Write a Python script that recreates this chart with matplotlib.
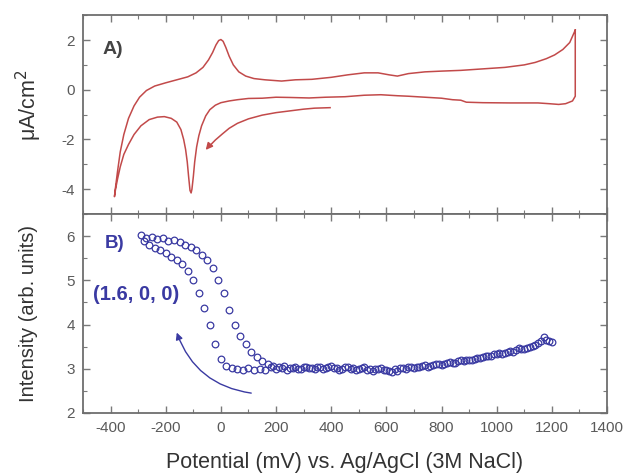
import matplotlib
matplotlib.use("Agg")
import matplotlib.pyplot as plt
from matplotlib.ticker import MultipleLocator

plt.rcParams['font.family'] = ['Liberation Sans', 'DejaVu Sans']
plt.rcParams['axes.unicode_minus'] = False

# ---- Panel A: cyclic voltammogram (mV, uA/cm^2) ----
cv_mv = [1285, 1285, 1275, 1250, 1225, 1190, 1150, 1050, 950, 890, 870, 840, 800, 740, 680, 640,
         580, 520, 450, 380, 320, 250, 200, 150, 100, 60, 30, 0, -20, -40, -55, -70, -80, -88,
         -95, -100, -105, -108, -112, -117, -122, -128, -135, -145, -160, -180, -205, -230,
         -260, -290, -315, -335, -352, -365, -375, -382, -386,
         -383, -375, -365, -352, -335, -315, -295, -270, -240, -200, -160, -120, -90, -65, -45,
         -30, -18, -8, 0, 8, 18, 30, 45, 65, 90, 120, 160, 220, 270, 330, 400, 460, 520, 570,
         610, 640, 680, 740, 800, 870, 950, 1030, 1100, 1140, 1180, 1210, 1240, 1265, 1285]
cv_ua = [2.40, -0.26, -0.45, -0.56, -0.59, -0.56, -0.53, -0.53, -0.52, -0.50, -0.42, -0.40,
         -0.34, -0.30, -0.26, -0.24, -0.20, -0.22, -0.28, -0.30, -0.33, -0.31, -0.30, -0.34,
         -0.35, -0.40, -0.45, -0.52, -0.62, -0.80, -1.05, -1.45, -1.85, -2.30, -2.90, -3.50,
         -4.00, -4.15, -4.05, -3.50, -2.90, -2.40, -2.00, -1.60, -1.30, -1.15, -1.08, -1.10,
         -1.20, -1.45, -1.80, -2.20, -2.60, -3.10, -3.60, -4.00, -4.30,
         -4.00, -3.30, -2.50, -1.80, -1.15, -0.65, -0.30, -0.03, 0.15, 0.28, 0.40, 0.52, 0.68,
         0.90, 1.20, 1.50, 1.80, 1.98, 2.02, 1.95, 1.70, 1.35, 1.00, 0.72, 0.55, 0.45, 0.40,
         0.35, 0.40, 0.42, 0.50, 0.60, 0.68, 0.68, 0.60, 0.55, 0.65, 0.72, 0.75, 0.78, 0.84,
         0.90, 1.00, 1.10, 1.25, 1.40, 1.62, 1.90, 2.40]
# initial scan segment (start of the sweep)
start_mv = [396, 340, 300, 250, 200, 150, 100, 60, 30, 5, -20, -42]
start_ua = [-0.72, -0.74, -0.78, -0.85, -0.92, -1.02, -1.17, -1.35, -1.55, -1.78, -2.02, -2.27]

# ---- Panel B: X-ray intensity at (1.6, 0, 0) ----
fwd_mv = [-290, -270, -250, -230, -210, -190, -170, -150, -130, -110, -90, -70, -50, -30, -10,
          10, 30, 50, 70, 90, 110, 130, 150, 170, 190, 210, 230, 250, 270, 290, 310, 330, 350,
          370, 390, 410, 430, 450, 470, 490, 510, 530, 550, 570, 590, 610, 630, 650, 670, 690,
          710, 730, 750, 770, 790, 810, 830, 850, 870, 890, 910, 930, 950, 970, 990, 1010,
          1030, 1050, 1070, 1090, 1110, 1130, 1150, 1170, 1190]
fwd_int = [6.02, 5.97, 5.99, 5.93, 5.95, 5.90, 5.91, 5.86, 5.81, 5.76, 5.68, 5.58, 5.45, 5.27,
           5.02, 4.72, 4.33, 4.00, 3.74, 3.55, 3.38, 3.26, 3.17, 3.11, 3.07, 3.04, 3.06, 3.01,
           3.03, 2.99, 3.04, 3.02, 3.05, 3.00, 3.03, 3.01, 2.98, 3.03, 3.00, 2.97, 3.01, 2.98,
           2.96, 3.00, 2.97, 2.95, 2.99, 3.02, 3.00, 3.04, 3.03, 3.07, 3.05, 3.09, 3.11, 3.10,
           3.15, 3.14, 3.19, 3.21, 3.20, 3.25, 3.27, 3.30, 3.33, 3.35, 3.36, 3.40, 3.42, 3.45,
           3.48, 3.52, 3.58, 3.72, 3.62]
rev_mv = [1200, 1180, 1160, 1140, 1120, 1100, 1080, 1060, 1040, 1020, 1000, 980, 960, 940, 920,
          900, 880, 860, 840, 820, 800, 780, 760, 740, 720, 700, 680, 660, 640, 620, 600, 580,
          560, 540, 520, 500, 480, 460, 440, 420, 400, 380, 360, 340, 320, 300, 280, 260, 240,
          220, 200, 180, 160, 140, 120, 100, 80, 60, 40, 20, 0, -20, -40, -60, -80, -100, -120,
          -140, -160, -180, -200, -220, -240, -260, -280]
rev_int = [3.60, 3.66, 3.62, 3.53, 3.50, 3.44, 3.46, 3.39, 3.38, 3.33, 3.34, 3.29, 3.30, 3.24,
           3.22, 3.19, 3.17, 3.18, 3.12, 3.13, 3.09, 3.10, 3.06, 3.08, 3.04, 3.02, 3.05, 3.01,
           2.96, 2.92, 2.98, 3.02, 2.99, 3.00, 3.03, 2.99, 3.02, 3.04, 3.00, 3.02, 3.06, 3.01,
           3.03, 2.99, 3.02, 3.05, 3.00, 3.02, 2.98, 3.01, 2.99, 3.03, 2.98, 3.00, 2.97, 3.01,
           2.98, 3.00, 3.02, 3.06, 3.22, 3.55, 3.98, 4.38, 4.72, 5.00, 5.22, 5.36, 5.46, 5.54,
           5.61, 5.68, 5.74, 5.80, 5.88]

x_ticks = [-400, -200, 0, 200, 400, 600, 800, 1000, 1200, 1400]

red = '#c24a4a'
blue = '#3a3aa2'
spine_c = '#6e6e6e'
tick_c = '#7a7a7a'

fig = plt.figure(figsize=(6.26, 4.74), dpi=100)
gs = fig.add_gridspec(2, 1, left=0.1326, right=0.9696, top=0.968, bottom=0.1287, hspace=0)
ax1 = fig.add_subplot(gs[0])
ax2 = fig.add_subplot(gs[1], sharex=ax1)

ax1.plot(cv_mv, cv_ua, color=red, lw=1.1)
ax1.plot(start_mv, start_ua, color=red, lw=1.1)
ax1.annotate('', xy=(-55, -2.42), xytext=(-40, -2.22),
             arrowprops=dict(arrowstyle='-|>', color=red, lw=1.1, mutation_scale=10,
                             shrinkA=0, shrinkB=0))

ax2.plot(fwd_mv, fwd_int, 'o', mfc='none', mec=blue, ms=4.8, mew=0.9)
ax2.plot(rev_mv, rev_int, 'o', mfc='none', mec=blue, ms=4.8, mew=0.9)
ax2.annotate('', xy=(-160, 3.82), xytext=(110, 2.45),
             arrowprops=dict(arrowstyle='-|>', color=blue, lw=1.0, mutation_scale=10,
                             connectionstyle='arc3,rad=-0.3', shrinkA=0, shrinkB=0))

ax1.set_xlim(-500, 1400)
ax1.set_ylim(-5, 3)
ax2.set_ylim(2, 6.5)

ax1.set_yticks([-4, -2, 0, 2])
ax1.yaxis.set_minor_locator(MultipleLocator(1))
ax2.set_yticks([2, 3, 4, 5, 6])
ax2.yaxis.set_minor_locator(MultipleLocator(0.5))
ax2.set_xticks(x_ticks)
ax2.xaxis.set_minor_locator(MultipleLocator(100))

for ax in (ax1, ax2):
    for s in ax.spines.values():
        s.set_color(spine_c)
        s.set_linewidth(1.3)
    ax.tick_params(which='both', direction='in', top=True, right=True, color=tick_c,
                   labelcolor='#5a5a5a', labelsize=11, pad=6)
    ax.tick_params(which='major', length=5, width=1.0)
    ax.tick_params(which='minor', length=3, width=0.8)
plt.setp(ax1.get_xticklabels(), visible=False)

ax1.set_ylabel('\u03bcA/cm$^2$', fontsize=15.5, color='#333333')
ax2.set_ylabel('Intensity (arb. units)', fontsize=14.5, color='#333333')
ax2.set_xlabel('Potential (mV) vs. Ag/AgCl (3M NaCl)', fontsize=15.5, color='#333333',
               labelpad=12)
ax1.yaxis.set_label_coords(-0.075, 0.55)
ax2.yaxis.set_label_coords(-0.085, 0.5)

ax1.text(0.038, 0.825, 'A)', transform=ax1.transAxes, fontsize=14, color='#444444',
         fontweight='bold', va='center')
ax2.text(0.042, 0.85, 'B)', transform=ax2.transAxes, fontsize=13.5, color=blue,
         fontweight='bold', va='center')
ax2.text(0.019, 0.596, '(1.6, 0, 0)', transform=ax2.transAxes, fontsize=14.5, color=blue,
         fontweight='bold', va='center')

fig.savefig('out.png', dpi=100)
